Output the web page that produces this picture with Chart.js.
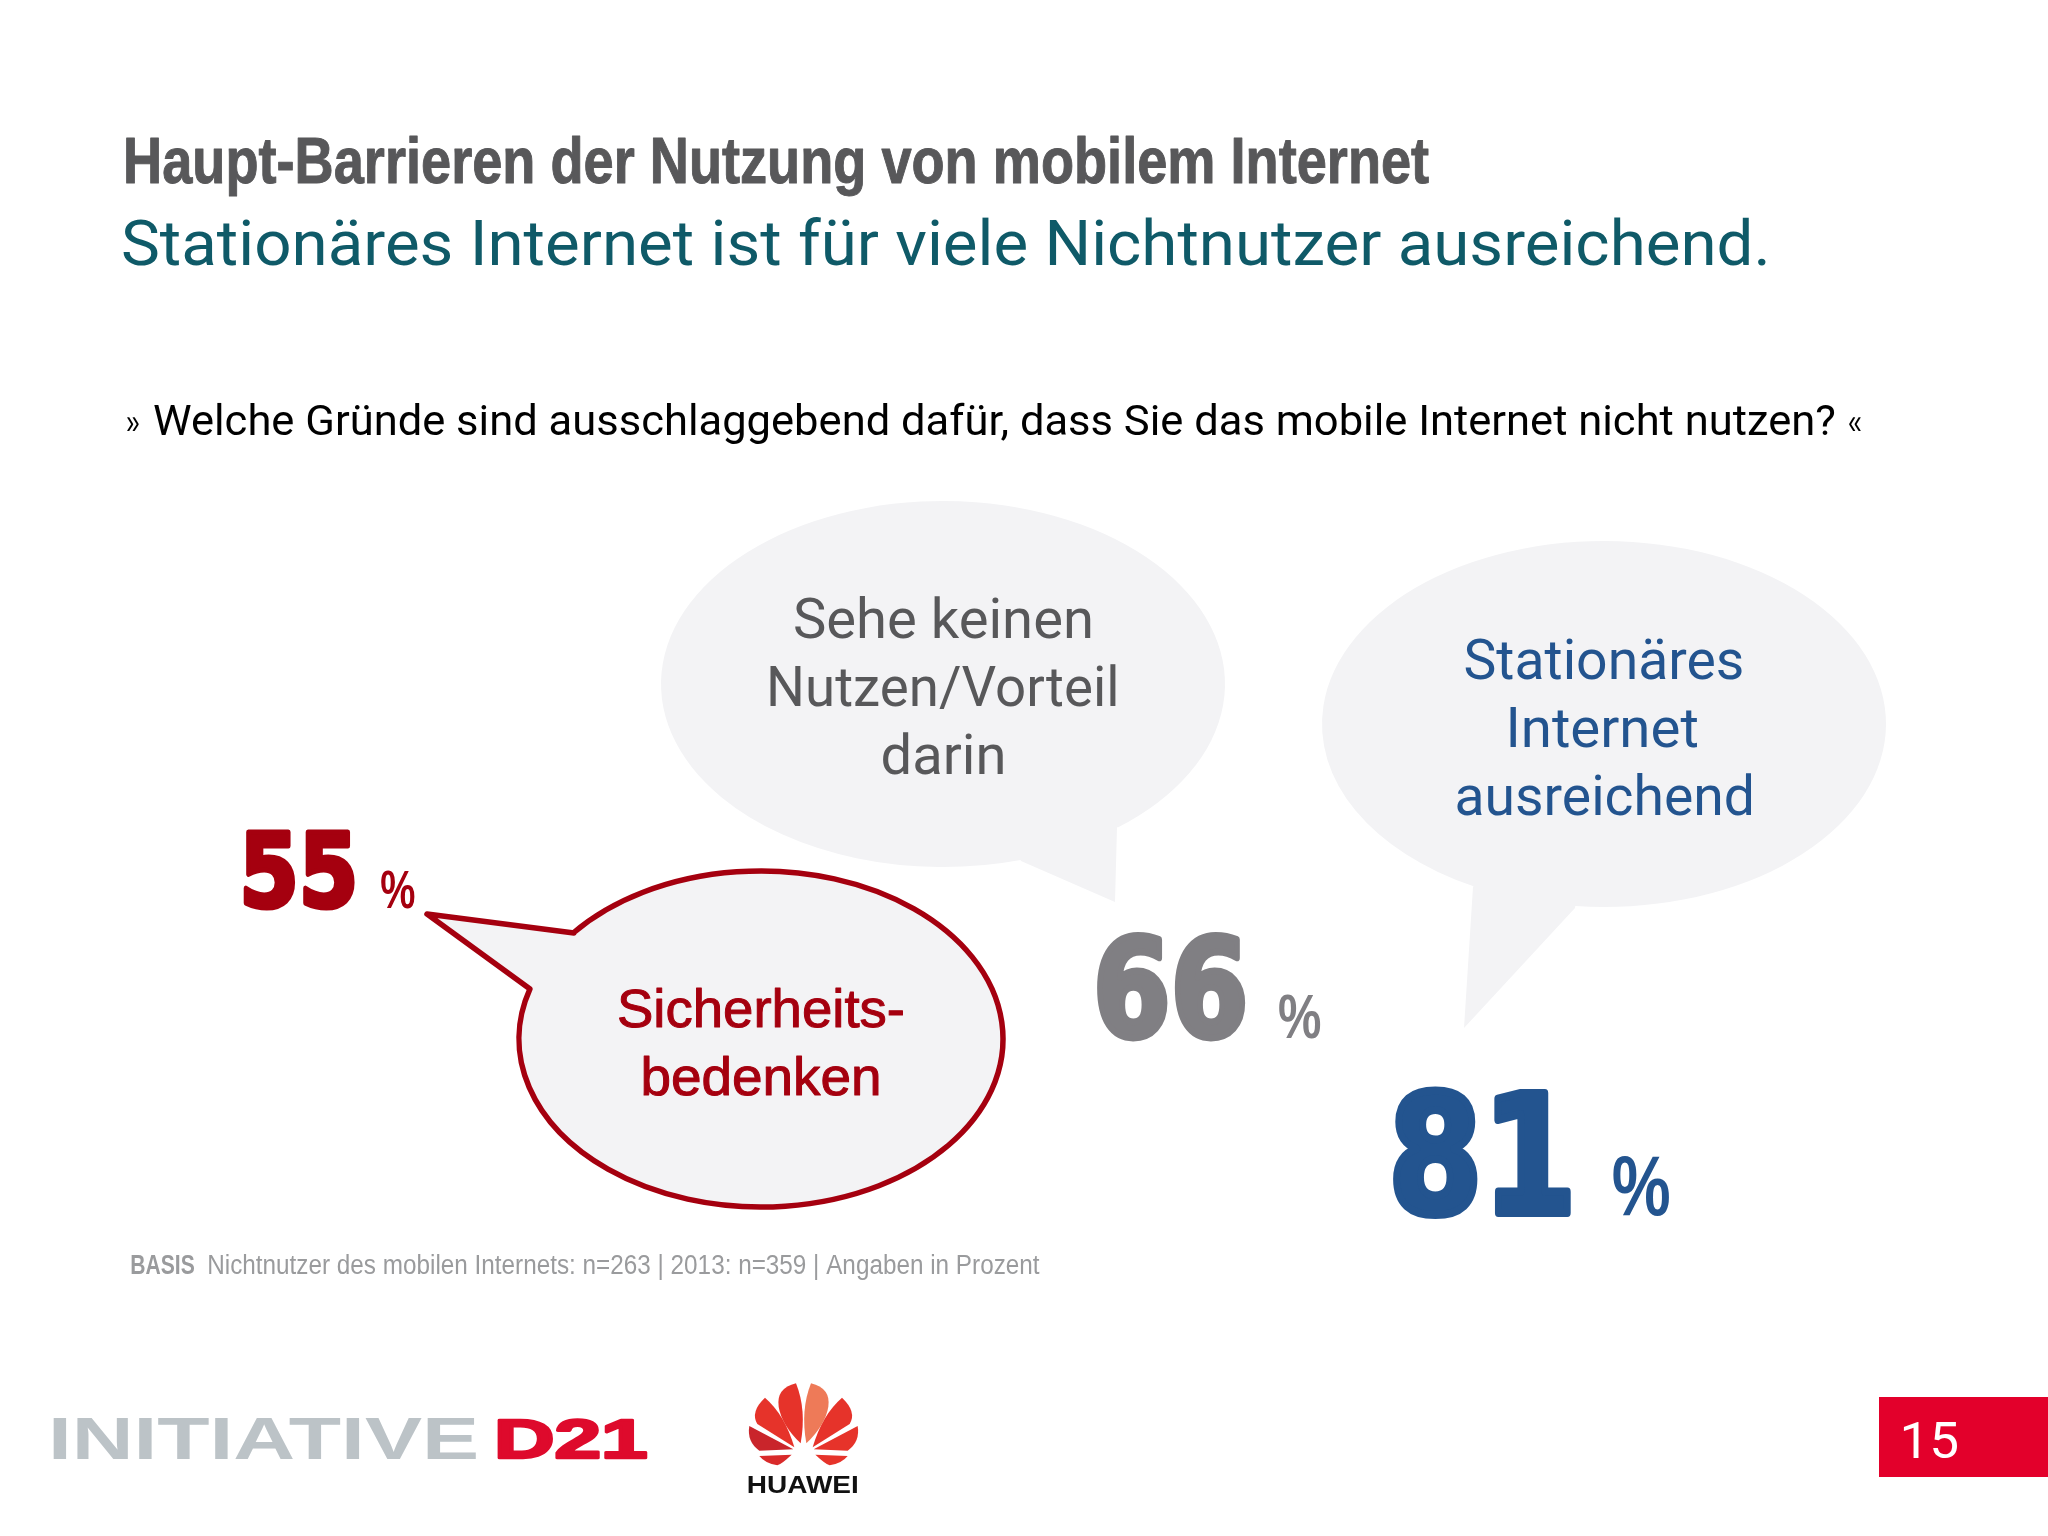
<!DOCTYPE html>
<html lang="de">
<head>
<meta charset="utf-8">
<title>Haupt-Barrieren der Nutzung von mobilem Internet</title>
<script src="https://cdn.jsdelivr.net/npm/chart.js@4/dist/chart.umd.js"></script>
<style>
	html, body { margin: 0; padding: 0; background: #fff; }
	canvas { display: block; }
</style>
</head>
<body>
<canvas id="stat" width="2048" height="1536"></canvas>
<script>
// werte aus dem bild
const categories = ['Sicherheitsbedenken', 'Sehe keinen Nutzen/Vorteil darin', 'Stationäres Internet ausreichend'];
const shares = [55, 66, 81];
const bubbleLines = [
	['Sicherheits-', 'bedenken'],
	['Sehe keinen', 'Nutzen/Vorteil', 'darin'],
	['Stationäres', 'Internet', 'ausreichend']
];
const titleText = 'Haupt-Barrieren der Nutzung von mobilem Internet';
const subtitleText = 'Stationäres Internet ist für viele Nichtnutzer ausreichend.';
const questionText = 'Welche Gründe sind ausschlaggebend dafür, dass Sie das mobile Internet nicht nutzen?';
const basisLabel = 'BASIS';
const basisText = 'Nichtnutzer des mobilen Internets: n=263 | 2013: n=359 | Angaben in Prozent';
const pageNumber = '15';

// layout, nur pixel und farben
const RED = '#a5000f', GREY = '#807f83', BLUE = '#23548f', BUBBLE = '#f3f3f5';
const seriesColors = [RED, GREY, BLUE];
const textColors = [RED, '#58585a', BLUE];
const numberBoxes = [
	{ x0: 243, x1: 355, h: 80, pct: [381, 415, 869, 908] },
	{ x0: 1097, x1: 1246, h: 110, pct: [1279, 1321, 992, 1038] },
	{ x0: 1393, x1: 1571, h: 133, pct: [1613, 1670, 1153, 1215] }
];
const bubbles = [
	{ cx: 761, cy: 1039, rx: 242, ry: 168, tail: [[530, 989], [427, 914], [574, 933]], ccw: false, line: RED },
	{ cx: 943, cy: 684, rx: 282, ry: 183, tail: [[1021, 861], [1115, 902], [1117, 827]], ccw: true },
	{ cx: 1604, cy: 724, rx: 282, ry: 183, tail: [[1473, 887], [1464, 1028], [1575, 908]], ccw: true }
];
const bubbleText = [
	{ cx: 761, base: [1027, 1095], w: [285, 236], font: '54px "Liberation Sans"', thick: 1 },
	{ cx: 943, base: [638, 706, 774], w: [296, 346, 121], font: '56px Roboto' },
	{ cx: 1604, base: [679, 747, 815], w: [277, 187, 295], font: '56px Roboto' }
];

// text auf exakte breite (und optional hoehe) ziehen, kontur zaehlt mit
function fitText(ctx, text, font, color, x0, x1, bottom, top, thick){
	const pad = thick || 0;
	ctx.save();
	ctx.font = font;
	ctx.fillStyle = color;
	ctx.textAlign = 'left';
	ctx.textBaseline = 'alphabetic';
	const m = ctx.measureText(text);
	const sx = (x1 - x0) / (m.actualBoundingBoxLeft + m.actualBoundingBoxRight + pad);
	let sy = 1;
	let y = bottom;
	if (top !== undefined && top !== null){
		sy = (bottom - top) / (m.actualBoundingBoxAscent + m.actualBoundingBoxDescent + pad);
		y = bottom - (m.actualBoundingBoxDescent + pad / 2) * sy;
	}
	ctx.translate(x0 + (m.actualBoundingBoxLeft + pad / 2) * sx, y);
	ctx.scale(sx, sy);
	ctx.fillText(text, 0, 0);
	if (thick){
		ctx.strokeStyle = color;
		ctx.lineWidth = thick;
		ctx.lineJoin = 'round';
		ctx.strokeText(text, 0, 0);
	}
	ctx.restore();
}

function drawBubble(ctx, b){
	// ellipse und zipfel als eine form
	const start = Math.atan2((b.tail[2][1] - b.cy) / b.ry, (b.tail[2][0] - b.cx) / b.rx);
	const end = Math.atan2((b.tail[0][1] - b.cy) / b.ry, (b.tail[0][0] - b.cx) / b.rx);
	ctx.beginPath();
	ctx.moveTo(b.tail[1][0], b.tail[1][1]);
	ctx.lineTo(b.tail[2][0], b.tail[2][1]);
	ctx.ellipse(b.cx, b.cy, b.rx, b.ry, 0, start, end, b.ccw);
	ctx.lineTo(b.tail[0][0], b.tail[0][1]);
	ctx.closePath();
	ctx.fillStyle = BUBBLE;
	ctx.fill();
	if (b.line){
		ctx.strokeStyle = b.line;
		ctx.lineWidth = 5.5;
		ctx.lineJoin = 'round';
		ctx.stroke();
	}
}

function drawPetal(ctx, cx, ox, oy, pts, mirror, fill){
	const px = x => ox + (mirror ? cx * 2 - x : x) / 3;
	const py = y => oy + y / 3;
	ctx.beginPath();
	ctx.moveTo(px(pts[0][0]), py(pts[0][1]));
	for (let i = 1; i < pts.length; i++){
		const p = pts[i];
		if (p.length == 2) ctx.lineTo(px(p[0]), py(p[1]));
		else ctx.quadraticCurveTo(px(p[0]), py(p[1]), px(p[2]), py(p[3]));
	}
	ctx.closePath();
	ctx.fillStyle = fill;
	ctx.fill();
}

function drawHuawei(ctx){
	const ox = 700, oy = 1360, cx = 310.5;
	const petals = [
		[[178, 288], [275, 284], [245, 312, 232, 316], [195, 310, 178, 288]],
		[[148, 198], [280, 268], [178, 272], [140, 245, 148, 198]],
		[[195, 113], [150, 155, 172, 192], [283, 262], [255, 165, 195, 113]],
		[[288, 70], [228, 85, 236, 140], [245, 195, 302, 250], [320, 150, 288, 70]]
	];
	const fills = ['#d92a2a', '#c9252b', '#e6332a', '#e6332a'];
	petals.forEach((pts, i) => {
		drawPetal(ctx, cx, ox, oy, pts, false, fills[i]);
		drawPetal(ctx, cx, ox, oy, pts, true, i == 3 ? '#ee7a58' : '#e6332a');
	});
	fitText(ctx, 'HUAWEI', 'bold 24px "Liberation Sans"', '#111', 748, 858, 1493, 1476);
}

const slidePlugin = {
	id: 'slide',
	beforeDatasetsDraw(chart){
		const ctx = chart.ctx;
		ctx.save();
		// reihenfolge wie im bild, rote blase oben
		drawBubble(ctx, bubbles[1]);
		drawBubble(ctx, bubbles[2]);
		drawBubble(ctx, bubbles[0]);
		bubbleLines.forEach((lines, i) => {
			const t = bubbleText[i];
			lines.forEach((line, j) => {
				fitText(ctx, line, t.font, textColors[i], t.cx - t.w[j] / 2, t.cx + t.w[j] / 2, t.base[j], null, t.thick);
			});
		});

		fitText(ctx, titleText, 'bold 65px "Liberation Sans"', '#58585a', 126, 1429, 183, null, 1);
		fitText(ctx, subtitleText, '63px Roboto', '#0f5a68', 123, 1766, 265);
		fitText(ctx, '»', '30px "Liberation Sans"', '#000', 127, 139, 431, 417);
		fitText(ctx, questionText, '42px Roboto', '#000', 154, 1835, 435);
		fitText(ctx, '«', '30px "Liberation Sans"', '#000', 1849, 1861, 431, 417);
		fitText(ctx, basisLabel, 'bold 27px "Liberation Sans"', '#9a9b9d', 131, 194, 1274);
		fitText(ctx, basisText, '27px "Liberation Sans"', '#9a9b9d', 209, 1040, 1274);

		fitText(ctx, 'INITIATIVE', 'bold 42px "Liberation Sans"', '#bcc3c7', 52, 477, 1459, 1418);
		fitText(ctx, 'D21', 'bold 42px "Liberation Sans"', '#de0a2c', 496, 649, 1459, 1418, 2);
		drawHuawei(ctx);

		ctx.fillStyle = '#e3002b';
		ctx.fillRect(1879, 1397, 169, 80);
		fitText(ctx, pageNumber, '44px Roboto', '#fff', 1903, 1957, 1458, 1422);
		ctx.restore();
	},
	afterDatasetsDraw(chart){
		// prozentzahlen haengen an der y-skala
		const ctx = chart.ctx;
		chart.getDatasetMeta(0).data.forEach((point, i) => {
			const box = numberBoxes[i];
			const color = seriesColors[i];
			fitText(ctx, String(shares[i]), 'bold 100px "DejaVu Sans"', color, box.x0, box.x1, point.y, point.y - box.h, 5);
			fitText(ctx, '%', 'bold 50px "Liberation Sans"', color, box.pct[0], box.pct[1], box.pct[3], box.pct[2]);
		});
	}
};

new Chart(
	document.getElementById('stat'),
	{
		type: 'line',
		data: {
			labels: categories,
			datasets: [
				{
					label: 'Nichtnutzer in Prozent',
					data: shares,
					showLine: false,
					pointRadius: 0
				}
			]
		},
		options: {
			responsive: false,
			animation: false,
			layout: { padding: 0 },
			plugins: {
				legend: { display: false },
				tooltip: { enabled: false }
			},
			scales: {
				x: { display: false },
				y: { display: false, reverse: true, min: -21.8, max: 107.8 }
			}
		},
		plugins: [slidePlugin]
	}
);
</script>
</body>
</html>
